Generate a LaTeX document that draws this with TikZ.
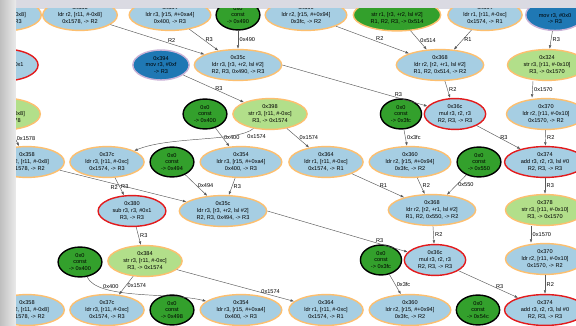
\documentclass[tikz,border=0pt]{standalone}
\usepackage{fontspec}
\setmainfont{Liberation Sans}
\usepackage{xcolor}
\usetikzlibrary{arrows.meta,shapes.geometric}

\definecolor{ltblue}{HTML}{A6CEE3}
\definecolor{dkblue}{HTML}{1F78B4}
\definecolor{ltgreen}{HTML}{B2DF8A}
\definecolor{dkgreen}{HTML}{33A02C}
\definecolor{orng}{HTML}{FDBF6F}
\definecolor{lilac}{HTML}{CAB2D6}
\definecolor{rd}{HTML}{E31A1C}
\definecolor{bgtop}{RGB}{218,218,226}

\begin{document}
\begin{tikzpicture}[x=1pt,y=-1pt,>={Latex[length=3.6pt,width=2.6pt]},
   font=\fontsize{5.6}{6.6}\selectfont,
   nd/.style={ellipse,draw=orng,line width=1.4pt,fill=ltblue,align=center,
     inner xsep=4.5pt,inner ysep=2pt},
   ar/.style={nd,draw=rd},
   st/.style={nd,fill=ltgreen},
   cst/.style={nd,fill=dkgreen,draw=black},
   mv/.style={nd,fill=dkblue,draw=lilac},
   dep/.style={->,draw=black!65,line width=.45pt},
   elab/.style={inner sep=1.5pt}]
  \useasboundingbox (0,0) rectangle (576,326);
  \fill[bgtop] (0,0) rectangle (576,9);
  \shade[left color=black!25,right color=black!8] (0,0) rectangle (16,326);
  \fill[white] (16,9) rectangle (576,326);
  \begin{scope}
  \clip (16,9) rectangle (576,326);
  % first pass through the loop
  \node[nd] (ld8) at (4,15) {\strut\\ldr r3, [r11, \#-0x8]\\0x1578, -> R3};
  \node[nd] (ld358) at (80,15) {0x358\\ldr r2, [r11, \#-0x8]\\0x1578, -> R2};
  \node[nd] (ld354) at (170,15) {0x354\\ldr r3, [r15, \#+0xa4]\\0x400, -> R3};
  \node[cst] (c490) at (238,15) {0x0\\const\\-> 0x490};
  \node[nd] (ld360) at (306,15) {0x360\\ldr r2, [r15, \#+0x94]\\0x3fc, -> R2};
  \node[nd,fill=dkgreen] (st514) at (397,15) {\strut\\str r1, [r3, +r2, lsl \#2]\\R1, R2, R3, -> 0x514};
  \node[nd] (ld364) at (485,15) {0x364\\ldr r1, [r11, \#-0xc]\\0x1574, -> R1};
  \node[mv] (mv0) at (555,15) {\strut\\mov r3, \#0x0\\-> R3};

  \node[ar] (inc) at (4,65) {\strut\\add r3, r3, \#0x1\\R3, -> R3};
  \node[mv] (mv394) at (161,65) {0x394\\mov r3, \#0xf\\-> R3};
  \node[nd] (ld35c) at (238,65) {0x35c\\ldr r3, [r3, +r2, lsl \#2]\\R2, R3, 0x490, -> R3};
  \node[nd] (ld368) at (440,65) {0x368\\ldr r2, [r2, +r1, lsl \#2]\\R1, R2, 0x514, -> R2};
  \node[st] (st324) at (547,65) {0x324\\str r3, [r11, \#-0x10]\\R3, -> 0x1570};

  \node[st] (st8) at (3,114) {\strut\\str r3, [r11, \#-0x8]\\R3, -> 0x1578};
  \node[cst] (c400) at (205,114) {0x0\\const\\-> 0x400};
  \node[st] (st398) at (270,114) {0x398\\str r3, [r11, \#-0xc]\\R3, -> 0x1574};
  \node[cst] (c3fc) at (401,114) {0x0\\const\\-> 0x3fc};
  \node[ar] (mul) at (455,114) {0x36c\\mul r3, r2, r3\\R2, R3, -> R3};
  \node[nd] (ld370) at (546,114) {0x370\\ldr r2, [r11, \#-0x10]\\0x1570, -> R2};

  % second pass
  \node[nd] (ld358b) at (27,162) {0x358\\ldr r2, [r11, \#-0x8]\\0x1578, -> R2};
  \node[nd] (ld37c) at (107,162) {0x37c\\ldr r3, [r11, \#-0xc]\\0x1574, -> R3};
  \node[cst] (c494) at (172,162) {0x0\\const\\-> 0x494};
  \node[nd] (ld354b) at (241,162) {0x354\\ldr r3, [r15, \#+0xa4]\\0x400, -> R3};
  \node[nd] (ld364b) at (326,162) {0x364\\ldr r1, [r11, \#-0xc]\\0x1574, -> R1};
  \node[nd] (ld360b) at (410,162) {0x360\\ldr r2, [r15, \#+0x94]\\0x3fc, -> R2};
  \node[cst] (c550) at (479,162) {0x0\\const\\-> 0x550};
  \node[ar] (add374) at (545,162) {0x374\\add r3, r2, r3, lsl \#0\\R2, R3, -> R3};

  \node[ar] (sub380) at (132,211) {0x380\\sub r3, r3, \#0x1\\R3, -> R3};
  \node[nd] (ld35cb) at (223,211) {0x35c\\ldr r3, [r3, +r2, lsl \#2]\\R2, R3, 0x494, -> R3};
  \node[nd] (ld368b) at (432,210) {0x368\\ldr r2, [r2, +r1, lsl \#2]\\R1, R2, 0x550, -> R2};
  \node[st] (st378) at (545,210) {0x378\\str r3, [r11, \#-0x10]\\R3, -> 0x1570};

  \node[cst] (c400b) at (80,262) {0x0\\const\\-> 0x400};
  \node[st] (st384) at (145,261) {0x384\\str r3, [r11, \#-0xc]\\R3, -> 0x1574};
  \node[cst] (c3fcb) at (381,260) {0x0\\const\\-> 0x3fc};
  \node[ar] (mulb) at (435,260) {0x36c\\mul r3, r2, r3\\R2, R3, -> R3};
  \node[nd] (ld370b) at (545,259) {0x370\\ldr r2, [r11, \#-0x10]\\0x1570, -> R2};

  % third pass (cut off)
  \node[nd] (ld358c) at (27,310) {0x358\\ldr r2, [r11, \#-0x8]\\0x1578, -> R2};
  \node[nd] (ld37cb) at (107,310) {0x37c\\ldr r3, [r11, \#-0xc]\\0x1574, -> R3};
  \node[cst] (c498) at (172,310) {0x0\\const\\-> 0x498};
  \node[nd] (ld354c) at (241,310) {0x354\\ldr r3, [r15, \#+0xa4]\\0x400, -> R3};
  \node[nd] (ld364c) at (326,310) {0x364\\ldr r1, [r11, \#-0xc]\\0x1574, -> R1};
  \node[nd] (ld360c) at (410,310) {0x360\\ldr r2, [r15, \#+0x94]\\0x3fc, -> R2};
  \node[cst] (c54c) at (478,310) {0x0\\const\\-> 0x54c};
  \node[ar] (add374b) at (545,310) {0x374\\add r3, r2, r3, lsl \#0\\R2, R3, -> R3};

  % dependencies
  \draw[dep] (ld358) -- (ld35c) node[elab,pos=.65,above]{R2};
  \draw[dep] (ld354) -- (ld35c) node[elab,midway,right]{R3};
  \draw[dep] (c490) -- (ld35c) node[elab,midway,right]{0x490};
  \draw[dep] (ld360) -- (ld368) node[elab,pos=.6,above]{R2};
  \draw[dep] (st514) -- (ld368) node[elab,midway,right]{0x514};
  \draw[dep] (ld364) -- (ld368) node[elab,midway,right]{R1};
  \draw[dep] (mv0) -- (st324) node[elab,midway,right]{R3};
  \draw[dep] (ld35c.east) -- (mul) node[elab,pos=.8,above]{R3};
  \draw[dep] (ld368) -- (mul) node[elab,midway,right]{R2};
  \draw[dep] ([xshift=-14]st324.south) -- ([xshift=-14]ld370.north) node[elab,midway,right]{0x1570};
  \draw[dep] (mv394) -- (st398) node[elab,midway,right]{R3};
  \draw[dep] (c400) -- (ld354b) node[elab,midway,right]{0x400};
  \draw[dep] (st398) .. controls (238,142) and (170,136) .. (ld37c) node[elab,pos=.12,below right=0pt]{0x1574};
  \draw[dep] (st398) -- (ld364b) node[elab,midway,right]{0x1574};
  \draw[dep] (c3fc) -- (ld360b) node[elab,midway,right]{0x3fc};
  \draw[dep] (mul) -- (add374) node[elab,midway,right]{R3};
  \draw[dep] (ld370) -- (add374) node[elab,midway,right]{R2};
  \draw[dep] (st8) -- (ld358b) node[elab,midway,right]{0x1578};
  \draw[dep] (ld358b) -- (ld35cb) node[elab,pos=.43,below]{R2};
  \draw[dep] (ld37c) -- (sub380) node[elab,midway,right]{R3};
  \draw[dep] (c494) -- (ld35cb) node[elab,midway,right]{0x494};
  \draw[dep] (ld354b) -- (ld35cb) node[elab,midway,right]{R3};
  \draw[dep] (ld364b) -- (ld368b) node[elab,midway,right]{R1};
  \draw[dep] (ld360b) -- (ld368b) node[elab,midway,right]{R2};
  \draw[dep] (c550) -- (ld368b) node[elab,midway,right]{0x550};
  \draw[dep] (add374) -- (st378) node[elab,midway,right]{R3};
  \draw[dep] (sub380) -- (st384) node[elab,midway,right]{R3};
  \draw[dep] (ld35cb.east) -- (mulb) node[elab,pos=.8,above]{R3};
  \draw[dep] (ld368b) -- (mulb) node[elab,midway,right]{R2};
  \draw[dep] ([xshift=-14]st378.south) -- ([xshift=-14]ld370b.north) node[elab,midway,right]{0x1570};
  \draw[dep] (c400b) .. controls (98,300) and (170,292) .. (ld354c) node[elab,pos=.3,above]{0x400};
  \draw[dep] (st384) -- (ld37cb) node[elab,midway,right]{0x1574};
  \draw[dep] (st384) -- (ld364c) node[elab,pos=.8,above]{0x1574};
  \draw[dep] (c3fcb) -- (ld360c) node[elab,midway,right]{0x3fc};
  \draw[dep] (mulb) -- (add374b) node[elab,pos=.6,right]{R3};
  \draw[dep] (ld370b) -- (add374b) node[elab,midway,right]{R2};
  \end{scope}
\end{tikzpicture}
\end{document}
